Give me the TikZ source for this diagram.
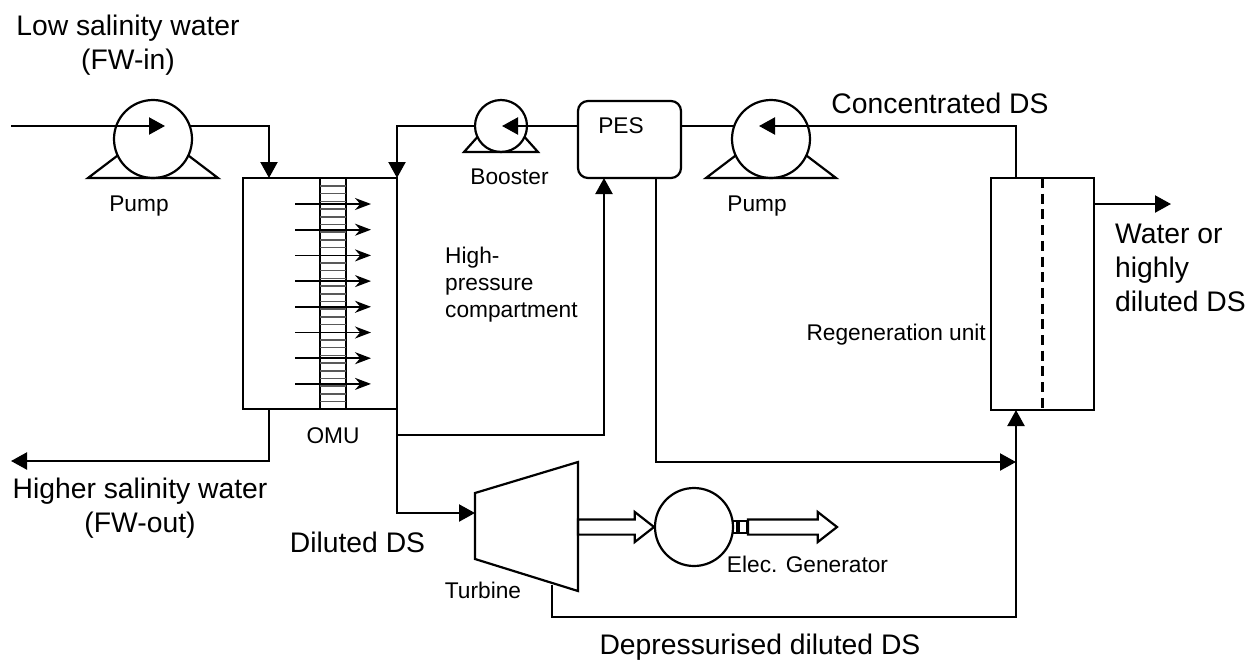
\documentclass[tikz,border=0pt]{standalone}
\usepackage{fontspec}
\setmainfont{Liberation Sans}
\usetikzlibrary{arrows.meta,calc,shapes.arrows}
\tikzset{
  pipe/.style={line width=2.2pt},
  flow/.style={pipe,-{Triangle[length=16pt,width=17pt]}},
  unitbox/.style={draw,line width=2.2pt,inner sep=0pt,outer sep=0pt},
  pumpbody/.style={unitbox,circle},
  shaft/.style={draw,line width=2.2pt,single arrow,inner xsep=0pt,inner ysep=6.5pt,outer sep=0pt,
    single arrow head extend=7.5pt,single arrow tip angle=76,single arrow head indent=0pt,anchor=tail},
  biglabel/.style={font=\fontsize{28.3}{33.8}\selectfont,align=center,inner sep=0pt},
  smalllabel/.style={font=\fontsize{22.7}{27.3}\selectfont,align=left,inner sep=0pt}
}
\begin{document}
\begin{tikzpicture}[x=1pt,y=-1pt]
    \useasboundingbox (0,0) rectangle (1247,659);
    \node[unitbox,minimum width=154pt,minimum height=231pt] (omu) at (320,293.5) {};
    \node[unitbox,minimum width=26pt,minimum height=231pt] (membrane) at (333,293.5) {};
    \foreach \y in {186,193.7,...,402.5}{
      \draw[black!65,line width=1.5pt] (320,\y) -- (346,\y);
    }
    \foreach \y in {204,229.7,...,386}{
      \draw[line width=1.8pt,-{Stealth[length=16pt,width=12pt]}] (295,\y) -- (371,\y);
    }
    \node[unitbox,rounded corners=10pt,minimum width=103pt,minimum height=77pt] (pes) at (629.5,139.5) {};
    \node[unitbox,minimum width=103pt,minimum height=232pt] (regen) at (1042.5,294) {};
    \draw[line width=2.2pt,dash pattern=on 10pt off 5.7pt] (regen.north) -- (regen.south);
    \node[pumpbody,minimum size=78pt] (pumpin) at (153,139) {};
    \node[pumpbody,minimum size=52pt] (booster) at (501,126) {};
    \node[pumpbody,minimum size=78pt] (pumpds) at (771,139) {};
    \foreach \n/\w in {pumpin/65,booster/37,pumpds/65}{
      \draw[pipe] (\n.205) -- ($(\n.south)+(-\w,0)$) -- ($(\n.south)+(\w,0)$) -- (\n.335);
    }
    \node[pumpbody,minimum size=78pt] (generator) at (694,527) {};
    \draw[pipe,line join=miter] (475,493) -- (578,462) -- (578,591) -- (475,559) -- cycle;
    \coordinate (turbinein) at (475,513);
    \coordinate (turbineout) at (552,585);
    \node[shaft,minimum height=76pt] (shafta) at (578,527) {};
    \node[shaft,minimum height=89pt] (shaftb) at (748,527) {};
    \draw[line width=1.6pt] (733,521) rectangle (737,533) (739,521) rectangle (747,533);

    \coordinate (feedstart) at (11,126);
    \coordinate (feedtip) at (165,126);
    \coordinate (omuina) at (269,178);
    \coordinate (omuinb) at (397,178);
    \coordinate (omuouta) at (269,409);
    \coordinate (omuoutb) at (397,409);
    \coordinate (brineend) at (11,461);
    \coordinate (pesin) at (604,178);
    \coordinate (pesout) at (656,178);
    \coordinate (regenin) at (1016,410);
    \coordinate (regentop) at (1016,178);
    \coordinate (junction) at (1016,462);
    \coordinate (waterend) at (1171,204);
    \draw[flow] (feedstart) -- (feedtip);
    \draw[flow] (pumpin.19.5 |- feedstart) -| (omuina);
    \draw[flow] (booster.west) -| (omuinb);
    \draw[flow] (pes.west |- booster.east) -- (502,126);
    \draw[pipe] (pes.east |- booster.east) -- (pumpds.160.5 |- booster.east);
    \draw[flow] (regentop) |- (759,126);
    \draw[flow] (omuouta) |- (brineend);
    \draw[flow] (omuoutb) |- (turbinein);
    \draw[flow] (omuoutb) ++(0,26) -| (pesin);
    \draw[flow] (pesout) |- (junction);
    \draw[flow] (turbineout) |- (1016,617) -- (regenin);
    \draw[flow] ($(regen.east)+(0,-90)$) -- (waterend);

    \node[biglabel] (lowlabel) at (128,45) {Low salinity water\\(FW-in)};
    \node[biglabel] (highlabel) at (140,508) {Higher salinity water\\(FW-out)};
    \node[biglabel,anchor=base] (dilutedlabel) at (357.5,552) {Diluted DS};
    \node[biglabel,anchor=base] (concdlabel) at (940,113) {Concentrated DS};
    \node[biglabel,align=left,anchor=west] (waterlabel) at (1115,268) {Water or\\highly\\diluted DS};
    \node[biglabel,anchor=base] (depresslabel) at (760,654) {Depressurised diluted DS};
    \node[smalllabel,anchor=base] (pumpinlabel) at (139,211) {Pump};
    \node[smalllabel,anchor=base] (boosterlabel) at (509.5,184) {Booster};
    \node[smalllabel,anchor=base] (pumpdslabel) at (757,211) {Pump};
    \node[smalllabel,anchor=base] (peslabel) at (621,133) {PES};
    \node[smalllabel,anchor=base] (omulabel) at (333,443) {OMU};
    \node[smalllabel,anchor=west] (hplabel) at (445,284.5) {High-\\pressure\\compartment};
    \node[smalllabel,anchor=base east] (regenlabel) at (986,340) {Regeneration unit};
    \node[smalllabel,anchor=base] (turbinelabel) at (483,598) {Turbine};
    \node[smalllabel,anchor=base] (genlabel) at (807.5,572) {Elec. Generator};
\end{tikzpicture}
\end{document}
